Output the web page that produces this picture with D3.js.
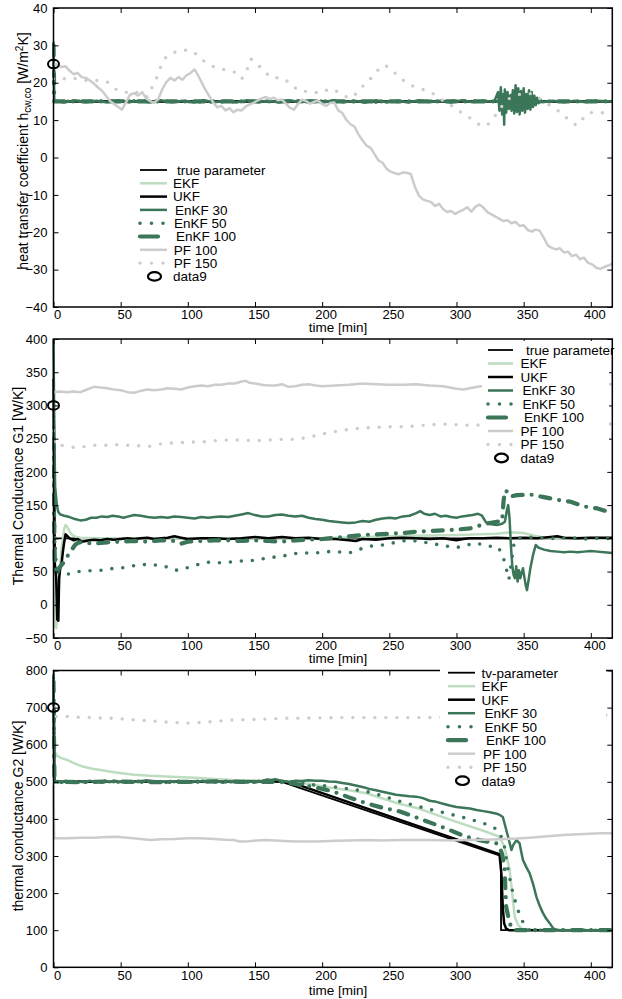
<!DOCTYPE html>
<html><head><meta charset="utf-8">
<script src="https://cdn.jsdelivr.net/npm/d3@7"></script>
<style>
body{margin:0;background:#fff}
svg{display:block}
text{font-family:"Liberation Sans",Arial,Helvetica,sans-serif;fill:#000}
</style>
</head><body>
<svg id="c" width="622" height="999"></svg>
<script>
// ---------------- DATA ----------------
const xTicks = [0,50,100,150,200,250,300,350,400];
const yTicksH = [-40,-30,-20,-10,0,10,20,30,40];
const yTicksG1 = [-50,0,50,100,150,200,250,300,350,400];
const yTicksG2 = [0,100,200,300,400,500,600,700,800];
const namesH = ["true parameter","EKF","UKF","EnKF 30","EnKF 50","EnKF 100","PF 100","PF 150","data9"];
const namesG1 = ["true parameter","EKF","UKF","EnKF 30","EnKF 50","EnKF 100","PF 100","PF 150","data9"];
const namesG2 = ["tv-parameter","EKF","UKF","EnKF 30","EnKF 50","EnKF 100","PF 100","PF 150","data9"];

// Panel 1: heat transfer coefficient
const hTrue = [[0,15],[416,15]];
const hEKF = [[0,15],[416,15]];
const hUKF = [[0,15],[416,15]];
const hEnKF30 = [[0,31],[0.6,15.2],[8,14.7],[16,15.3],[24,14.8],[32,15.2],[40,14.7],[48,15.3],[56,14.8],[64,15.2],[72,14.7],[80,15.3],[88,14.8],[96,15.2],[104,14.7],[112,15.3],[120,14.8],[128,15.2],[136,14.7],[144,15.3],[152,14.8],[160,15.2],[168,14.7],[176,15.3],[184,14.8],[192,15.2],[200,14.7],[208,15.3],[216,14.8],[224,15.2],[232,14.7],[240,15.3],[248,14.8],[256,15.2],[264,14.7],[272,15.3],[280,14.8],[288,15.2],[296,14.7],[304,15.3],[312,14.8],[320,15.2],[328,14.9],
 [331,17.5],[332,12.5],[333,18.8],[334,11.5],[335,17],[335.5,8.8],[336,18.2],[337,12],[338,17.5],[339,13],[340,16.5],[341,12.5],[342,18],[343,11.8],[344,19.3],[345,12.2],[346,18.5],[347,11.5],[348,17.8],[349,12.5],[350,18.5],[351,12],[352,17],[353,13],[354,18],[355,12.8],[356,17.5],[357,13.5],[358,16.5],[359,14],[360,16],[361,14.5],[362,15.6],[364,14.8],
 [372,15.2],[380,14.8],[388,15.2],[396,14.8],[404,15.2],[416,15]];
const hEnKF50 = [[0,29],[0.6,15],[60,15.2],[120,14.8],[180,15.2],[240,14.8],[300,15.2],[330,15],[334,16.5],[338,13.5],[342,17],[346,13],[350,16.5],[354,13.8],[358,15.8],[362,15],[416,15]];
const hEnKF100 = [[0,30],[0.6,15],[332,15],[336,13],[340,17.5],[344,12.8],[348,17],[352,13.5],[356,16],[360,15],[416,15]];
const hPF100 = [[0,25],[3,24.8],[6,24.2],[9,24.4],[12,23.2],[15,22.3],[18,22.6],[21,21.5],[24,21.3],[27,20.6],[30,19.8],[33,18.8],[36,17.9],[39,16.5],[42,15.2],[45,14.3],[48,13.6],[51,12.8],[54,14.8],[57,16.8],[60,17.2],[63,16.6],[66,17.5],[69,15.8],[72,15.1],[75,14.6],[78,15.6],[81,18.3],[84,20.2],[87,21.3],[90,20.6],[93,21.5],[96,20.8],[99,22.0],[102,22.6],[105,23.6],[107,22.4],[110,20.3],[113,18.2],[116,16.4],[119,14.6],[122,13.4],[125,13.8],[128,12.6],[131,13.2],[134,12.1],[137,12.8],[140,12.6],[143,13.6],[146,14.2],[149,14.6],[152,15.3],[155,15.8],[158,16.2],[161,15.6],[164,16],[167,15.3],[170,15.5],[173,14.4],[176,13.3],[179,12.8],[182,14.3],[185,15.5],[188,15.1],[191,14.4],[194,14.9],[197,15.2],[200,14.3],[203,13.8],[206,14.6],[209,14.7],[212,12.6],[215,11.9],[218,10.1],[221,8.9],[224,8.3],[227,6.2],[230,4.6],[233,3.2],[236,2.6],[239,0.9],[242,-0.8],[245,-1.4],[248,-3.0],[251,-3.8],[254,-4.2],[257,-4.5],[260,-4.0],[263,-4.1],[266,-4.4],[269,-7.8],[272,-10.2],[275,-11.2],[278,-11.6],[281,-11.9],[284,-13.0],[287,-12.4],[290,-13.8],[293,-14.6],[296,-14.3],[299,-15.1],[302,-14.5],[305,-14.0],[308,-13.3],[311,-14.5],[314,-13.2],[317,-12.6],[320,-13.4],[323,-14.6],[326,-15.2],[329,-15.8],[332,-16.4],[335,-17.0],[338,-16.8],[341,-17.6],[344,-17.2],[347,-18.3],[350,-18.1],[353,-19.4],[356,-19.8],[359,-19.3],[362,-19.6],[365,-21.5],[368,-23.5],[371,-24.2],[374,-24.6],[377,-24.3],[380,-25.4],[383,-25.2],[386,-26.4],[389,-26.0],[392,-27.2],[395,-26.8],[398,-28.2],[401,-28.6],[404,-29.5],[407,-29.8],[410,-29.3],[413,-28.9],[416,-28.4]];
const hPF150 = [[0,21],[5,21.3],[10,20.9],[15,21.2],[20,21.0],[25,20.6],[30,20.8],[35,20.4],[40,20.2],[45,18.5],[50,17.6],[55,17.4],[60,17.8],[65,16.8],[70,16.2],[73,18.5],[76,20.5],[80,24.5],[84,27],[88,27.8],[92,28.4],[96,28.8],[100,28.6],[104,28.4],[108,27],[112,25.8],[116,24.8],[120,24.2],[125,23.6],[130,23.4],[135,22.8],[140,21],[143,22.5],[147,26.4],[150,25.4],[154,24.2],[158,22.6],[163,21.2],[168,21.4],[172,21],[176,19.8],[180,18.6],[185,17.6],[190,17.8],[195,17.4],[200,17.3],[205,18.4],[210,17.9],[215,16.9],[220,15.8],[225,17],[230,19],[235,20.6],[240,22.8],[245,24.7],[249,24.3],[253,23],[258,21.3],[263,20],[268,19],[273,18.6],[278,17.6],[283,17],[288,15.8],[293,14.4],[298,13.6],[303,12.2],[308,11.2],[313,9.6],[318,8.6],[322,8.4],[326,9.8],[330,11.8],[334,13.8],[338,15.5],[342,16.3],[347,16.9],[352,17.2],[357,17],[362,15.8],[367,14.5],[372,13.4],[377,12.2],[382,10.6],[386,9.2],[390,8.6],[393,9.8],[396,11.3],[400,12.0],[405,12.2],[410,11.9],[416,11.6]];
const hData9 = [[0,25]];

// Panel 2: thermal conductance G1
const g1True = [[0,100],[416,100]];
const g1EKF = [[0,330],[0.5,100],[1,-30],[2,-35],[3,-10],[4,30],[5,60],[6,85],[7,100],[8,115],[9,120],[10,118],[12,110],[14,105],[17,102],[20,101],[30,100],[100,100],[200,100],[250,103],[300,105],[330,107],[340,109],[350,108],[358,104],[365,101],[416,100]];
const g1UKF = [[0,340],[0.5,200],[1,60],[1.5,55],[2,40],[2.8,-22],[3.6,-24],[4.2,40],[5,55],[6,62],[7,80],[8,95],[9,106],[10,104],[12,100],[15,97],[18,99],[21,95],[24,96],[27,97],[30,98],[35,97],[40,99],[45,98],[50,99],[55,100],[60,99],[65,100],[70,101],[75,99],[80,100],[85,101],[90,103],[95,101],[100,99],[110,100],[120,100],[130,99],[140,100],[150,102],[160,100],[170,102],[180,100],[190,101],[200,99],[210,99],[220,97],[225,96],[230,99],[240,98],[250,100],[260,101],[270,100],[280,99],[290,100],[300,97],[305,99],[310,100],[320,100],[330,101],[340,100],[350,101],[360,100],[370,102],[375,103],[380,101],[390,100],[400,101],[410,101],[416,101]];
const g1EnKF30 = [[0,400],[0.3,330],[0.7,250],[1.2,178],[1.8,165],[2.5,150],[3.5,140],[5,136],[8,134],[12,132],[16,129],[20,127],[24,128],[28,131],[32,131],[36,133],[40,132],[44,134],[48,133],[52,131],[56,133],[60,135],[65,134],[70,132],[75,131],[80,132],[85,131],[90,133],[95,132],[100,131],[105,130],[110,132],[115,131],[120,132],[125,133],[130,132],[135,134],[140,136],[145,138],[150,135],[155,133],[160,133],[165,135],[170,136],[175,134],[180,133],[185,134],[190,131],[195,129],[200,128],[205,126],[210,125],[215,124],[220,123],[225,124],[230,126],[235,125],[240,128],[245,130],[250,131],[255,130],[260,133],[265,134],[270,138],[273,141],[276,137],[280,135],[284,137],[288,133],[292,134],[296,132],[300,131],[304,133],[308,134],[312,135],[316,137],[319,134],[322,124],[326,121],[330,120],[334,122],[336,125],[337.5,142],[338.5,150],[339.5,130],[340.5,90],[341.5,60],[342.5,45],[343.5,40],[344.5,58],[345.5,35],[346.5,52],[347.5,40],[348.5,48],[349.5,55],[350.5,42],[351.5,30],[352.5,22],[353.5,35],[355,55],[357,75],[359,90],[361,86],[365,83],[370,81],[375,80],[380,79],[385,80],[390,79],[395,80],[400,81],[405,80],[410,79],[416,78]];
const g1EnKF50 = [[0,300],[0.5,180],[1,100],[2,60],[3,55],[4,52],[6,50],[10,46],[14,47],[18,50],[22,50],[26,51],[30,52],[35,52],[40,53],[45,55],[50,55],[55,57],[60,59],[65,61],[70,60],[75,60],[80,59],[84,57],[88,53],[92,52],[96,54],[100,56],[105,59],[110,62],[115,64],[120,64],[125,63],[130,64],[135,65],[140,66],[145,66],[150,67],[155,69],[160,70],[165,72],[170,73],[175,75],[180,77],[185,78],[190,78],[195,78],[200,79],[205,80],[210,80],[215,79],[220,78],[225,81],[230,85],[235,88],[240,89],[245,90],[250,92],[255,94],[260,96],[265,97],[270,96],[280,93],[290,89],[300,86],[308,90],[315,93],[322,88],[330,88],[334,78],[337,55],[339,38],[341,65],[343,95],[345,100],[352,101],[358,102],[365,100],[375,100],[385,101],[395,99],[405,100],[416,100]];
const g1EnKF100 = [[0,250],[0.5,120],[1,60],[2,45],[3,48],[4,55],[6,60],[8,65],[10,72],[12,78],[14,84],[16,90],[18,93],[20,94],[25,93],[30,92],[35,93],[40,94],[50,95],[60,96],[70,95],[80,97],[90,96],[95,92],[100,95],[110,96],[120,97],[130,97],[140,96],[150,97],[160,96],[170,95],[180,97],[190,98],[200,99],[210,101],[220,103],[230,105],[240,106],[250,107],[260,108],[270,110],[280,111],[290,112],[300,113],[310,115],[322,122],[330,125],[334,126],[335,155],[336,172],[338,170],[340,163],[345,165],[355,166],[365,162],[375,158],[385,155],[395,148],[405,145],[416,138]];
const g1PF100 = [[0,320],[5,321],[10,320],[15,321],[20,320],[25,324],[30,328],[35,327],[40,326],[45,324],[50,323],[55,320],[60,319],[65,322],[70,324],[75,323],[80,324],[85,326],[90,325],[95,324],[100,327],[105,329],[110,330],[115,329],[120,331],[125,331],[130,333],[135,333],[140,336],[143,337],[146,334],[150,333],[155,331],[160,330],[165,330],[170,332],[175,328],[180,329],[185,331],[190,332],[195,330],[200,329],[210,330],[220,331],[230,333],[240,332],[250,331],[260,331],[270,332],[280,330],[290,329],[300,325],[305,324],[310,326],[318,329],[330,331],[340,330],[360,331],[380,332],[400,332],[416,332]];
const g1PF150 = [[0,262],[1,240],[5,240],[10,239],[15,237],[20,237],[25,239],[30,240],[35,240],[40,240],[45,241],[50,241],[55,240],[60,240],[65,239],[70,238],[75,240],[80,242],[85,243],[90,244],[95,244],[100,245],[110,245],[120,247],[130,248],[140,248],[150,247],[160,248],[170,249],[180,249],[190,252],[200,257],[210,261],[220,264],[230,266],[240,267],[250,268],[260,268],[270,269],[280,271],[290,272],[300,271],[310,270],[320,271],[340,271],[360,272],[380,272],[400,272],[416,272]];
const g1Data9 = [[0,300]];

// Panel 3: thermal conductance G2
const g2True = [[0,500],[170,500],[333,300],[333.2,100],[416,100]];
const g2EKF = [[0,700],[0.3,600],[1,582],[2,573],[5,565],[10,559],[16,549],[22,541],[28,536],[35,532],[45,526],[60,519],[72,516],[84,514],[96,512],[109,510],[122,507],[134,505],[147,504],[160,502],[175,500],[190,495],[208,483],[220,477],[233,469],[245,455],[258,440],[272,428],[282,415],[300,392],[320,368],[332,352],[335.7,325],[339.6,262],[342,182],[343.4,136],[345.9,114],[349.5,101],[416,100]];
const g2UKF = [[0,760],[0.3,700],[0.6,520],[1,500],[20,501],[40,500],[60,501],[70,503],[80,500],[100,501],[120,500],[140,500],[160,501],[172,501],[178,497],[332,305],[333.5,250],[334.5,160],[335.5,118],[337,104],[339,100],[416,100]];
const g2EnKF30 = [[0,790],[0.2,720],[0.4,600],[0.7,510],[1,498],[3,502],[6,497],[9,503],[12,499],[15,502],[18,497],[21,501],[24,498],[27,503],[30,499],[33,501],[36,497],[39,502],[42,499],[45,503],[48,498],[51,501],[54,497],[57,502],[60,499],[63,503],[66,500],[69,504],[72,499],[75,502],[78,498],[81,501],[84,497],[87,502],[90,499],[93,503],[96,498],[99,501],[102,497],[105,502],[108,499],[111,503],[114,500],[117,502],[120,498],[123,501],[126,497],[129,502],[132,499],[135,501],[138,497],[141,500],[144,498],[147,501],[150,498],[153,500],[156,503],[159,506],[162,505],[165,507],[168,504],[171,502],[174,500],[177,501],[180,503],[185,502],[190,504],[195,503],[200,503],[205,501],[210,500],[215,497],[220,494],[225,490],[230,486],[235,481],[240,477],[245,473],[250,469],[255,465],[260,463],[265,461],[270,460],[275,456],[280,449],[285,446],[290,441],[295,436],[300,432],[305,430],[310,428],[315,424],[320,421],[325,418],[330,414],[332,411],[334.5,405],[336,385],[338.4,352],[340.9,316],[342,328],[344.6,343],[346,338],[347,334],[348,315],[349.5,289],[352,270],[354.5,253],[357,225],[359.5,190],[362,165],[364.4,146],[367,130],[369.4,119],[372,105],[375,101],[377,100],[416,100]];
const g2EnKF50 = [[0,780],[0.3,650],[0.7,505],[1,500],[20,500],[40,502],[60,500],[80,501],[100,500],[120,501],[140,500],[160,502],[175,501],[185,496],[195,491],[208,487],[220,481],[233,474],[245,462],[258,447],[270,435],[282,424],[295,413],[307,402],[318,391],[327,379],[332,366],[335.7,325],[338.4,262],[340.9,217],[343.4,182],[347,141],[351,110],[354,101],[360,100],[416,100]];
const g2EnKF100 = [[0,770],[0.3,640],[0.7,505],[1,500],[20,499],[40,501],[60,500],[80,499],[100,500],[120,501],[140,500],[160,500],[172,499],[180,494],[190,488],[200,481],[208,474],[220,458],[233,442],[245,430],[258,420],[270,404],[282,388],[295,370],[307,352],[318,342],[330,334],[332,325],[334,305],[335.7,271],[337,163],[339.6,119],[342,101],[346,100],[416,100]];
const g2PF100 = [[0,490],[0.5,348],[10,348],[20,349],[30,349],[40,351],[47,352],[55,349],[65,346],[72,343],[80,345],[90,346],[100,348],[109,348],[120,346],[128,344],[134,343],[139,339],[145,340],[152,342],[158,343],[165,342],[175,340],[183,339],[196,339],[210,341],[220,342],[233,343],[245,342],[258,343],[270,343],[282,343],[295,342],[307,343],[320,344],[332,345],[345,347],[357,350],[370,354],[382,357],[395,359],[407,361],[416,361]];
const g2PF150 = [[0,700],[0.5,676],[10,676],[20,674],[35,672],[45,671],[60,667],[70,665],[80,662],[90,660],[99,658],[110,660],[120,663],[134,667],[150,668],[171,671],[190,672],[210,673],[240,673],[270,673],[300,674],[330,675],[360,676],[390,678],[416,680]];
const g2Data9 = [[0,700]];

// ---------------- STYLE / LAYOUT ----------------
const styleKeys = ["truth","ekf","ukf","enkf30","enkf50","enkf100","pf100","pf150"];
const STY = {
  truth:{stroke:"#000000",w:1.8},
  ekf:{stroke:"#bddcc0",w:2.5},
  ukf:{stroke:"#000000",w:2.5},
  enkf30:{stroke:"#3b7659",w:2.5},
  enkf50:{stroke:"#3b7659",w:3.6,dash:"0,11",cap:"round",ldash:"0,11.5"},
  enkf100:{stroke:"#3b7659",w:4.2,dash:"10,9,0,9",cap:"round",ldash:"18,40"},
  pf100:{stroke:"#cccccc",w:2.5},
  pf150:{stroke:"#cccccc",w:3.4,dash:"0,11",cap:"round",ldash:"0,11.5"}
};
const L = 53.5, R = 612.3;
const panels = [
  {top:8, bottom:307, domain:[-40,40], ticks:yTicksH, names:namesH,
   series:[hTrue,hEKF,hUKF,hEnKF30,hEnKF50,hEnKF100,hPF100,hPF150], marker:hData9,
   ylab:{x:27.5,y:151}, xlabY:332,
   legend:{x0:140,x1:167,tx:173,y0:170,dy:13.3,dx:[4,0,0,2,1,3,0.7,0.7,0],box:[133,161,142,124]}},
  {top:339, bottom:638, domain:[-50,400], ticks:yTicksG1, names:namesG1,
   series:[g1True,g1EKF,g1UKF,g1EnKF30,g1EnKF50,g1EnKF100,g1PF100,g1PF150], marker:g1Data9,
   ylab:{x:23,y:486}, xlabY:663,
   legend:{x0:488,x1:513,tx:520.5,y0:350,dy:13.5,dx:[5.5,0,0,2,2,3.5,0,0,0],box:[482,341,127,126]}},
  {top:670.5, bottom:967.3, domain:[0,800], ticks:yTicksG2, names:namesG2,
   series:[g2True,g2EKF,g2UKF,g2EnKF30,g2EnKF50,g2EnKF100,g2PF100,g2PF150], marker:g2Data9,
   ylab:{x:23,y:816}, xlabY:994.5,
   legend:{x0:448,x1:475,tx:481.5,y0:672.7,dy:13.5,dx:[0,0,0,3,3,4.5,1.5,1.5,0],box:[440,662,166,128]}}
];

// ---------------- DRAW ----------------
const svg = d3.select("#c");
const defs = svg.append("defs");
const x = d3.scaleLinear().domain([0,416]).range([L,R]);

panels.forEach((p,i)=>{
  const y = d3.scaleLinear().domain(p.domain).range([p.bottom,p.top]);
  const g = svg.append("g");
  defs.append("clipPath").attr("id","clip"+i).append("rect")
    .attr("x",L-1.5).attr("y",p.top-1.5).attr("width",R-L+3).attr("height",p.bottom-p.top+3);
  const line = d3.line().x(d=>x(d[0])).y(d=>y(d[1]));
  const dg = g.append("g").attr("clip-path","url(#clip"+i+")");
  p.series.forEach((s,k)=>{
    const st = STY[styleKeys[k]];
    dg.append("path").datum(s).attr("d",line)
      .attr("fill","none").attr("stroke",st.stroke).attr("stroke-width",st.w)
      .attr("stroke-linejoin","round")
      .attr("stroke-linecap",st.cap||"butt")
      .attr("stroke-dasharray",st.dash||null);
  });
  g.selectAll(".mk").data(p.marker).join("ellipse")
    .attr("cx",d=>x(d[0])).attr("cy",d=>y(d[1])).attr("rx",5.5).attr("ry",4.3)
    .attr("fill","none").attr("stroke","#000").attr("stroke-width",2);

  // axes
  const ax = g.append("g").attr("transform",`translate(0,${p.bottom})`)
    .call(d3.axisBottom(x).tickValues(xTicks).tickSize(-5).tickSizeOuter(0).tickPadding(3));
  ax.selectAll("text").attr("dx",3.5).attr("font-size",13);
  g.append("g").attr("transform",`translate(0,${p.top})`)
    .call(d3.axisTop(x).tickValues(xTicks).tickSize(-5).tickSizeOuter(0).tickFormat(""));
  const ay = g.append("g").attr("transform",`translate(${L},0)`)
    .call(d3.axisLeft(y).tickValues(p.ticks).tickSize(-5).tickSizeOuter(0).tickPadding(6));
  ay.selectAll("text").attr("font-size",13);
  g.append("g").attr("transform",`translate(${R},0)`)
    .call(d3.axisRight(y).tickValues(p.ticks).tickSize(-5).tickSizeOuter(0).tickFormat(""));
  g.selectAll(".domain").remove();
  g.selectAll(".tick line").attr("stroke","#000").attr("stroke-width",1);
  g.selectAll(".tick text").attr("fill","#000").style("font-family",'"Liberation Sans",Arial,sans-serif');
  g.append("rect").attr("x",L).attr("y",p.top).attr("width",R-L).attr("height",p.bottom-p.top)
    .attr("fill","none").attr("stroke","#000").attr("stroke-width",1.5);

  // labels
  g.append("text").attr("x",338).attr("y",p.xlabY).attr("text-anchor","middle")
    .attr("font-size",13.5).text("time [min]");
  const yl = g.append("text").attr("transform",`translate(${p.ylab.x},${p.ylab.y}) rotate(-90)`)
    .attr("text-anchor","middle").attr("font-size",14);
  if(i===0){
    yl.append("tspan").text("heat transfer coefficient h");
    yl.append("tspan").attr("font-size",10).attr("dy",3).text("cw,co");
    yl.append("tspan").attr("dy",-3).text(" [W/m");
    yl.append("tspan").attr("font-size",10).attr("dy",-5).text("2");
    yl.append("tspan").attr("dy",5).text("K]");
  } else if(i===1){
    yl.text("Thermal Conductance G1 [W/K]");
  } else {
    yl.text("thermal conductance G2 [W/K]");
  }

  // legend
  const lg = p.legend;
  const lgG = g.append("g");
  lgG.append("rect").attr("x",lg.box[0]).attr("y",lg.box[1]).attr("width",lg.box[2]).attr("height",lg.box[3]).attr("fill","#fff");
  p.names.forEach((nm,k)=>{
    const yy = lg.y0 + k*lg.dy;
    if(k===8){
      lgG.append("ellipse").attr("cx",(lg.x0+lg.x1)/2+1).attr("cy",yy).attr("rx",6.5).attr("ry",4.3)
        .attr("fill","none").attr("stroke","#000").attr("stroke-width",2.2);
    } else {
      const st = STY[styleKeys[k]];
      lgG.append("line").attr("x1",lg.x0).attr("x2",lg.x1).attr("y1",yy).attr("y2",yy)
        .attr("stroke",st.stroke).attr("stroke-width",st.w)
        .attr("stroke-linecap",st.cap||"butt")
        .attr("stroke-dasharray",st.ldash||null);
    }
    lgG.append("text").attr("x",lg.tx+lg.dx[k]).attr("y",yy).attr("dy","0.36em")
      .attr("font-size",13.5).text(nm);
  });
});
</script>
</body></html>
